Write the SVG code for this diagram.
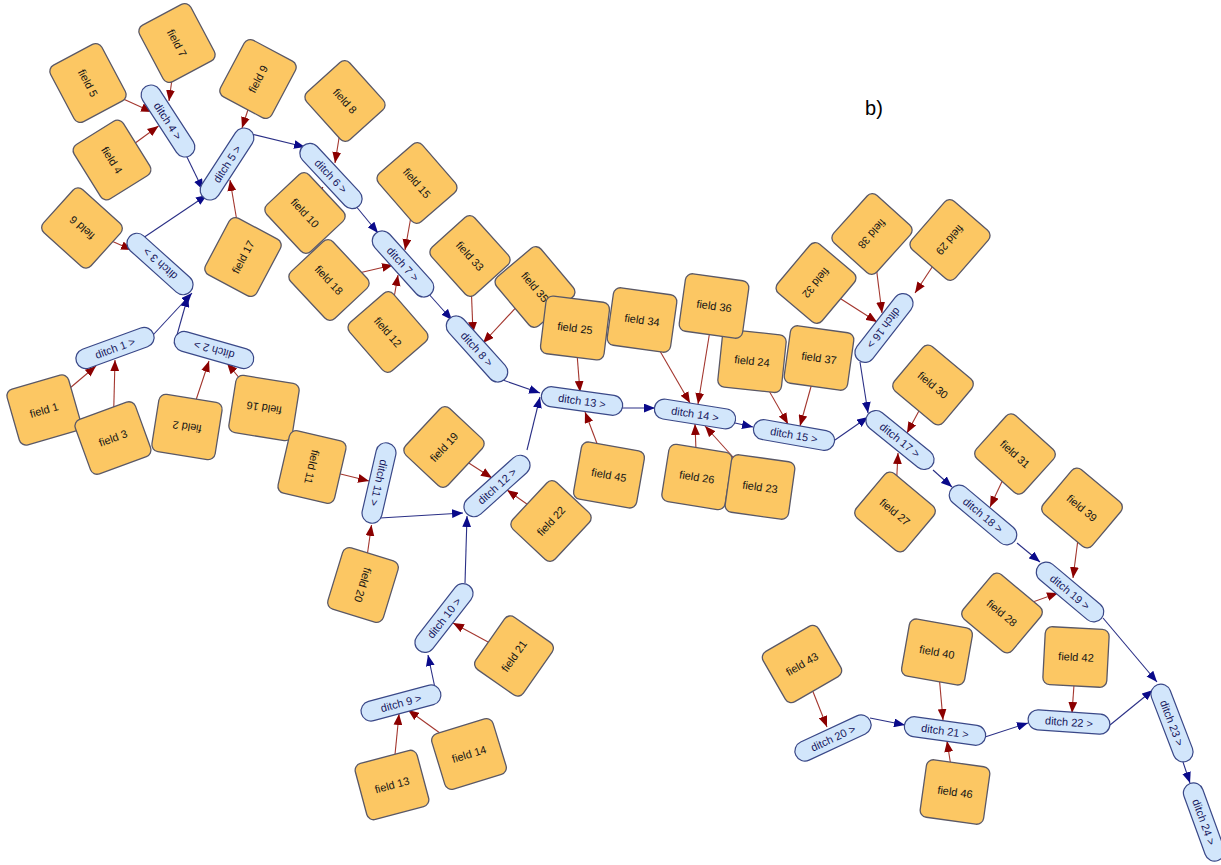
<svg xmlns="http://www.w3.org/2000/svg" width="1221" height="865" viewBox="0 0 1221 865">
<style>
.f use{fill:#fcc763;stroke:#5a5866;stroke-width:1.3}
.d use{fill:#d2e6fb;stroke:#3a4888;stroke-width:1.2}
text{font-family:"Liberation Sans",Arial,sans-serif;font-size:11px;text-anchor:middle}
.f text{fill:#151515}
.d text{fill:#17175c}
.r{stroke:#a3362e;stroke-width:1.1;fill:none;marker-end:url(#ar)}
.b{stroke:#2a2f86;stroke-width:1.1;fill:none;marker-end:url(#ab)}
</style>
<defs>
<marker id="ar" viewBox="0 0 10 8" refX="10" refY="4" markerWidth="11" markerHeight="9" markerUnits="userSpaceOnUse" orient="auto"><path d="M0,0 L10,4 L0,8 z" fill="#8b0000"/></marker>
<marker id="ab" viewBox="0 0 10 8" refX="10" refY="4" markerWidth="11" markerHeight="9" markerUnits="userSpaceOnUse" orient="auto"><path d="M0,0 L10,4 L0,8 z" fill="#0a0a8a"/></marker>
<rect id="fr" x="-32" y="-29" width="64" height="58" rx="7"/>
<rect id="dr" x="-41" y="-10" width="82" height="20" rx="10"/>
</defs>
<rect width="1221" height="865" fill="#fff"/>
<g id="connectors">
<line class="r" x1="88" y1="83" x2="152" y2="112"/>
<line class="r" x1="177" y1="43" x2="169" y2="101"/>
<line class="r" x1="112" y1="160" x2="158.5" y2="126"/>
<line class="r" x1="258" y1="79" x2="242" y2="128"/>
<line class="r" x1="243" y1="257" x2="230" y2="180"/>
<line class="r" x1="345" y1="101" x2="335" y2="163"/>
<line class="r" x1="305" y1="213" x2="323" y2="187"/>
<line class="r" x1="82" y1="228" x2="132" y2="250"/>
<line class="r" x1="417" y1="183" x2="405" y2="250"/>
<line class="r" x1="329" y1="280" x2="393" y2="265"/>
<line class="r" x1="388" y1="332" x2="398" y2="275"/>
<line class="r" x1="470" y1="256" x2="473" y2="333"/>
<line class="r" x1="535" y1="287" x2="483" y2="343"/>
<line class="r" x1="44" y1="410" x2="96" y2="366"/>
<line class="r" x1="113" y1="438" x2="115" y2="360"/>
<line class="r" x1="187" y1="427" x2="209" y2="361"/>
<line class="r" x1="264" y1="408" x2="227" y2="363"/>
<line class="r" x1="312" y1="467" x2="369" y2="481"/>
<line class="r" x1="363" y1="585" x2="371.5" y2="525"/>
<line class="r" x1="444" y1="447" x2="492" y2="478"/>
<line class="r" x1="551" y1="521" x2="507" y2="490"/>
<line class="r" x1="575" y1="328" x2="580" y2="392"/>
<line class="r" x1="609" y1="475" x2="585" y2="412"/>
<line class="r" x1="642" y1="320" x2="690" y2="403"/>
<line class="r" x1="714" y1="306" x2="698" y2="404"/>
<line class="r" x1="697" y1="477" x2="695" y2="424"/>
<line class="r" x1="760" y1="487" x2="705" y2="426"/>
<line class="r" x1="752" y1="361" x2="788" y2="424"/>
<line class="r" x1="819" y1="358" x2="800" y2="426"/>
<line class="r" x1="816" y1="283" x2="877" y2="322"/>
<line class="r" x1="872" y1="234" x2="882" y2="313"/>
<line class="r" x1="950" y1="240" x2="915" y2="293"/>
<line class="r" x1="933" y1="385" x2="907" y2="433"/>
<line class="r" x1="895" y1="512" x2="898" y2="453"/>
<line class="r" x1="1015" y1="454" x2="990" y2="507"/>
<line class="r" x1="1082" y1="508" x2="1073" y2="578"/>
<line class="r" x1="1002" y1="613" x2="1058" y2="593"/>
<line class="r" x1="514" y1="656" x2="453" y2="623"/>
<line class="r" x1="392" y1="785" x2="399" y2="714"/>
<line class="r" x1="469" y1="754" x2="408" y2="710"/>
<line class="r" x1="802" y1="664" x2="827" y2="727"/>
<line class="r" x1="937" y1="652" x2="943" y2="720"/>
<line class="r" x1="955" y1="792" x2="947" y2="741"/>
<line class="r" x1="1076" y1="657" x2="1072" y2="713"/>
<line class="b" x1="185" y1="153" x2="203" y2="190"/>
<line class="b" x1="143" y1="238" x2="207" y2="195"/>
<line class="b" x1="247" y1="133" x2="305" y2="147"/>
<line class="b" x1="355" y1="205" x2="378" y2="233"/>
<line class="b" x1="427" y1="292" x2="452" y2="320"/>
<line class="b" x1="500" y1="379" x2="540" y2="393"/>
<line class="b" x1="153" y1="335" x2="192" y2="293"/>
<line class="b" x1="175" y1="342" x2="188" y2="296"/>
<line class="b" x1="380" y1="518" x2="463" y2="513"/>
<line class="b" x1="465" y1="583" x2="467" y2="516"/>
<line class="b" x1="435" y1="688" x2="428" y2="655"/>
<line class="b" x1="527" y1="450" x2="540" y2="397"/>
<line class="b" x1="622" y1="408" x2="655" y2="408"/>
<line class="b" x1="735" y1="423" x2="753" y2="427"/>
<line class="b" x1="835" y1="440" x2="868" y2="417"/>
<line class="b" x1="860" y1="362" x2="868" y2="413"/>
<line class="b" x1="933" y1="470" x2="952" y2="487"/>
<line class="b" x1="1017" y1="543" x2="1040" y2="562"/>
<line class="b" x1="1103" y1="618" x2="1157" y2="682"/>
<line class="b" x1="870" y1="718" x2="905" y2="725"/>
<line class="b" x1="985" y1="737" x2="1028" y2="723"/>
<line class="b" x1="1110" y1="725" x2="1153" y2="690"/>
<line class="b" x1="1183" y1="762" x2="1190" y2="783"/>
</g>
<g id="ditch1" class="d" transform="translate(115,348) rotate(-20)"><use href="#dr"/><text y="4">ditch 1 &gt;</text></g>
<g id="ditch2" class="d" transform="translate(214,350) rotate(196)"><use href="#dr"/><text y="4">ditch 2 &gt;</text></g>
<g id="ditch3" class="d" transform="translate(160,264) rotate(222)"><use href="#dr"/><text y="4">ditch 3 &gt;</text></g>
<g id="ditch4" class="d" transform="translate(168,121) rotate(57)"><use href="#dr"/><text y="4">ditch 4 &gt;</text></g>
<g id="ditch5" class="d" transform="translate(227,164) rotate(-57)"><use href="#dr"/><text y="4">ditch 5 &gt;</text></g>
<g id="ditch6" class="d" transform="translate(331,176) rotate(47)"><use href="#dr"/><text y="4">ditch 6 &gt;</text></g>
<g id="ditch7" class="d" transform="translate(403,264) rotate(48)"><use href="#dr"/><text y="4">ditch 7 &gt;</text></g>
<g id="ditch8" class="d" transform="translate(477,349) rotate(48)"><use href="#dr"/><text y="4">ditch 8 &gt;</text></g>
<g id="ditch9" class="d" transform="translate(401,703) rotate(-15)"><use href="#dr"/><text y="4">ditch 9 &gt;</text></g>
<g id="ditch10" class="d" transform="translate(444,618) rotate(-52)"><use href="#dr"/><text y="4">ditch 10 &gt;</text></g>
<g id="ditch11" class="d" transform="translate(379,483) rotate(103)"><use href="#dr"/><text y="4">ditch 11 &gt;</text></g>
<g id="ditch12" class="d" transform="translate(497,486) rotate(-42)"><use href="#dr"/><text y="4">ditch 12 &gt;</text></g>
<g id="ditch13" class="d" transform="translate(582,401) rotate(8)"><use href="#dr"/><text y="4">ditch 13 &gt;</text></g>
<g id="ditch14" class="d" transform="translate(695,414) rotate(9)"><use href="#dr"/><text y="4">ditch 14 &gt;</text></g>
<g id="ditch15" class="d" transform="translate(794,435) rotate(10)"><use href="#dr"/><text y="4">ditch 15 &gt;</text></g>
<g id="ditch16" class="d" transform="translate(884,328) rotate(128)"><use href="#dr"/><text y="4">ditch 16 &gt;</text></g>
<g id="ditch17" class="d" transform="translate(900,440) rotate(39)"><use href="#dr"/><text y="4">ditch 17 &gt;</text></g>
<g id="ditch18" class="d" transform="translate(983,515) rotate(40)"><use href="#dr"/><text y="4">ditch 18 &gt;</text></g>
<g id="ditch19" class="d" transform="translate(1070,592) rotate(40)"><use href="#dr"/><text y="4">ditch 19 &gt;</text></g>
<g id="ditch20" class="d" transform="translate(833,738) rotate(-25)"><use href="#dr"/><text y="4">ditch 20 &gt;</text></g>
<g id="ditch21" class="d" transform="translate(945,731) rotate(8)"><use href="#dr"/><text y="4">ditch 21 &gt;</text></g>
<g id="ditch22" class="d" transform="translate(1069,722) rotate(4)"><use href="#dr"/><text y="4">ditch 22 &gt;</text></g>
<g id="ditch23" class="d" transform="translate(1172,723) rotate(69)"><use href="#dr"/><text y="4">ditch 23 &gt;</text></g>
<g id="ditch24" class="d" transform="translate(1204,822) rotate(70)"><use href="#dr"/><text y="4">ditch 24 &gt;</text></g>
<g id="field1" class="f" transform="translate(44,410) rotate(-16)"><use href="#fr"/><text y="4">field 1</text></g>
<g id="field3" class="f" transform="translate(113,438) rotate(-20)"><use href="#fr"/><text y="4">field 3</text></g>
<g id="field2" class="f" transform="translate(187,427) rotate(189)"><use href="#fr"/><text y="4">field 2</text></g>
<g id="field16" class="f" transform="translate(264,408) rotate(189)"><use href="#fr"/><text y="4">field 16</text></g>
<g id="field11" class="f" transform="translate(312,467) rotate(103)"><use href="#fr"/><text y="4">field 11</text></g>
<g id="field20" class="f" transform="translate(363,585) rotate(107)"><use href="#fr"/><text y="4">field 20</text></g>
<g id="field4" class="f" transform="translate(112,160) rotate(58)"><use href="#fr"/><text y="4">field 4</text></g>
<g id="field5" class="f" transform="translate(88,83) rotate(62)"><use href="#fr"/><text y="4">field 5</text></g>
<g id="field6" class="f" transform="translate(82,228) rotate(222)"><use href="#fr"/><text y="4">field 6</text></g>
<g id="field7" class="f" transform="translate(177,43) rotate(62)"><use href="#fr"/><text y="4">field 7</text></g>
<g id="field8" class="f" transform="translate(345,101) rotate(48)"><use href="#fr"/><text y="4">field 8</text></g>
<g id="field9" class="f" transform="translate(258,79) rotate(-62)"><use href="#fr"/><text y="4">field 9</text></g>
<g id="field17" class="f" transform="translate(243,257) rotate(-62)"><use href="#fr"/><text y="4">field 17</text></g>
<g id="field10" class="f" transform="translate(305,213) rotate(47)"><use href="#fr"/><text y="4">field 10</text></g>
<g id="field18" class="f" transform="translate(329,280) rotate(47)"><use href="#fr"/><text y="4">field 18</text></g>
<g id="field12" class="f" transform="translate(388,332) rotate(49)"><use href="#fr"/><text y="4">field 12</text></g>
<g id="field15" class="f" transform="translate(417,183) rotate(49)"><use href="#fr"/><text y="4">field 15</text></g>
<g id="field33" class="f" transform="translate(470,256) rotate(48)"><use href="#fr"/><text y="4">field 33</text></g>
<g id="field35" class="f" transform="translate(535,287) rotate(50)"><use href="#fr"/><text y="4">field 35</text></g>
<g id="field25" class="f" transform="translate(575,328) rotate(7)"><use href="#fr"/><text y="4">field 25</text></g>
<g id="field34" class="f" transform="translate(642,320) rotate(8)"><use href="#fr"/><text y="4">field 34</text></g>
<g id="field24" class="f" transform="translate(752,361) rotate(6)"><use href="#fr"/><text y="4">field 24</text></g>
<g id="field36" class="f" transform="translate(714,306) rotate(8)"><use href="#fr"/><text y="4">field 36</text></g>
<g id="field37" class="f" transform="translate(819,358) rotate(8)"><use href="#fr"/><text y="4">field 37</text></g>
<g id="field32" class="f" transform="translate(816,283) rotate(130)"><use href="#fr"/><text y="4">field 32</text></g>
<g id="field38" class="f" transform="translate(872,234) rotate(132)"><use href="#fr"/><text y="4">field 38</text></g>
<g id="field29" class="f" transform="translate(950,240) rotate(131)"><use href="#fr"/><text y="4">field 29</text></g>
<g id="field19" class="f" transform="translate(444,447) rotate(-47)"><use href="#fr"/><text y="4">field 19</text></g>
<g id="field22" class="f" transform="translate(551,521) rotate(-47)"><use href="#fr"/><text y="4">field 22</text></g>
<g id="field45" class="f" transform="translate(609,475) rotate(10)"><use href="#fr"/><text y="4">field 45</text></g>
<g id="field26" class="f" transform="translate(697,477) rotate(9)"><use href="#fr"/><text y="4">field 26</text></g>
<g id="field23" class="f" transform="translate(760,487) rotate(8)"><use href="#fr"/><text y="4">field 23</text></g>
<g id="field30" class="f" transform="translate(933,385) rotate(40)"><use href="#fr"/><text y="4">field 30</text></g>
<g id="field27" class="f" transform="translate(895,512) rotate(40)"><use href="#fr"/><text y="4">field 27</text></g>
<g id="field31" class="f" transform="translate(1015,454) rotate(42)"><use href="#fr"/><text y="4">field 31</text></g>
<g id="field39" class="f" transform="translate(1082,508) rotate(40)"><use href="#fr"/><text y="4">field 39</text></g>
<g id="field28" class="f" transform="translate(1002,613) rotate(40)"><use href="#fr"/><text y="4">field 28</text></g>
<g id="field21" class="f" transform="translate(514,656) rotate(-55)"><use href="#fr"/><text y="4">field 21</text></g>
<g id="field13" class="f" transform="translate(392,785) rotate(-15)"><use href="#fr"/><text y="4">field 13</text></g>
<g id="field14" class="f" transform="translate(469,754) rotate(-17)"><use href="#fr"/><text y="4">field 14</text></g>
<g id="field43" class="f" transform="translate(802,664) rotate(-30)"><use href="#fr"/><text y="4">field 43</text></g>
<g id="field40" class="f" transform="translate(937,652) rotate(10)"><use href="#fr"/><text y="4">field 40</text></g>
<g id="field42" class="f" transform="translate(1076,657) rotate(3)"><use href="#fr"/><text y="4">field 42</text></g>
<g id="field46" class="f" transform="translate(955,792) rotate(8)"><use href="#fr"/><text y="4">field 46</text></g>
<text x="874" y="115" style="font-size:20px;fill:#000">b)</text>
</svg>
